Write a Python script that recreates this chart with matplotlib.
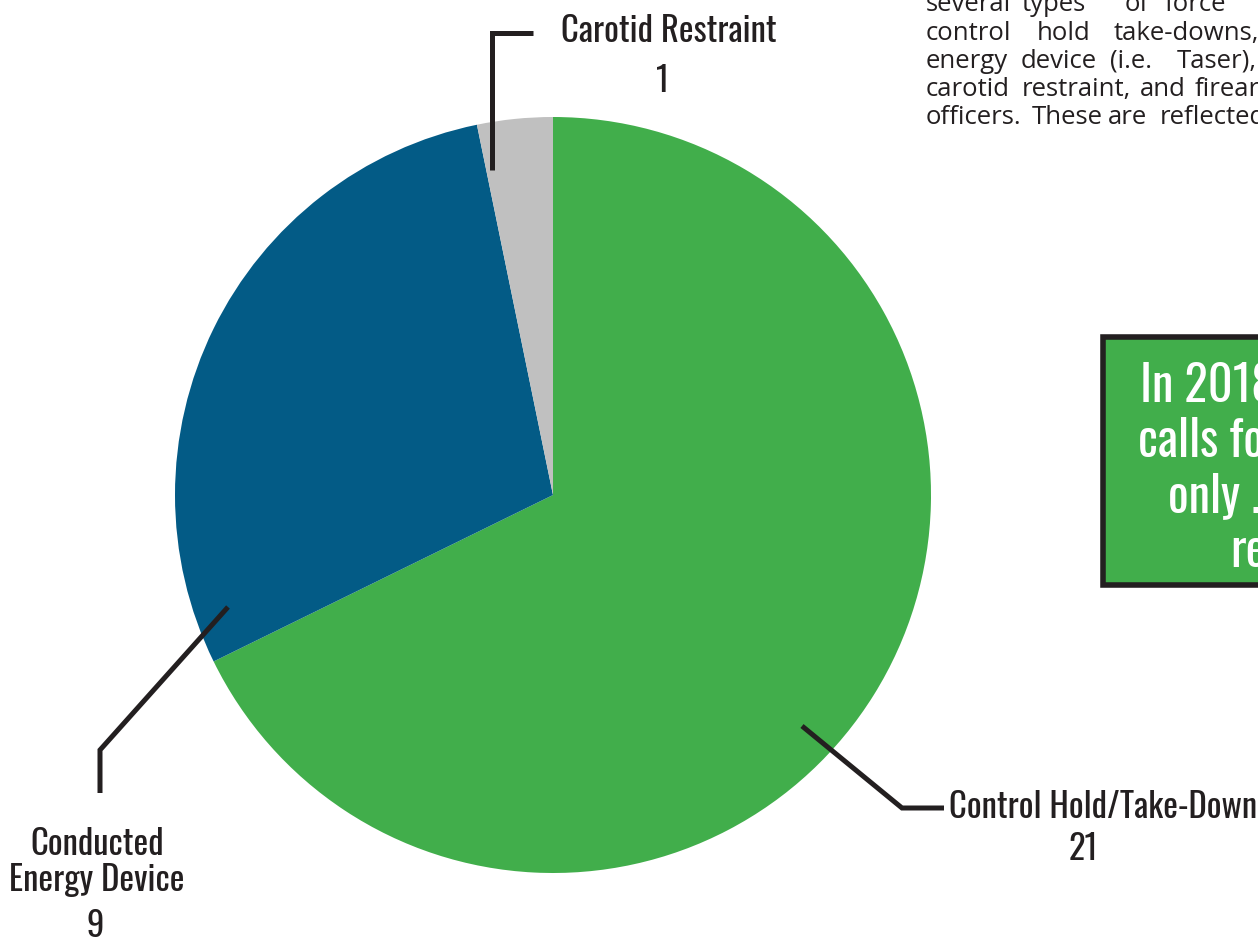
import matplotlib
matplotlib.use("Agg")
import matplotlib.pyplot as plt
from matplotlib import font_manager
from matplotlib.patches import Rectangle

# Use-of-force types and counts
categories = ["Control Hold/Take-Down", "Conducted\nEnergy Device", "Carotid Restraint"]
counts = [21, 9, 1]
colors = ["#41AE4B", "#035B86", "#C0C0C0"]

W, H = 1258, 942
INK = "#231F20"

installed = {f.name for f in font_manager.fontManager.ttflist}


def pick(*names):
    return next((n for n in names if n in installed), "DejaVu Sans")


narrow = pick("Oswald", "League Gothic", "Roboto Condensed", "Archivo Narrow", "Asap Condensed")
body_font = pick("Open Sans", "PT Sans", "Lato")

fig = plt.figure(figsize=(W / 100, H / 100), dpi=100)
ax = fig.add_axes([0, 0, 1, 1])


def Y(y):
    # convert a top-down pixel row into the axes' upward y
    return H - y


cx, cy, r = 553, Y(495), 378
ax.pie(counts, colors=colors, startangle=90, counterclock=False,
       center=(cx, cy), radius=r, wedgeprops=dict(linewidth=0))
ax.set_xlim(0, W)
ax.set_ylim(0, H)
ax.set_aspect("auto")
ax.axis("off")

# leader lines
lw = 3.6
for xs, ys in [([492, 492, 533], [170, 33, 33]),
               ([228, 100, 100], [607, 750, 793]),
               ([802, 902, 944], [726, 808, 808])]:
    ax.plot(xs, [Y(v) for v in ys], color=INK, lw=lw,
            solid_joinstyle="miter", solid_capstyle="butt")

lab = dict(family=narrow, color=INK, fontsize=25, ha="center", va="baseline",
           fontweight="medium")
ax.text(669, Y(42), categories[2], **lab)
ax.text(663, Y(92), str(counts[2]), **lab)
ax.text(1103, Y(818), categories[0], **lab)
ax.text(1083, Y(860), str(counts[0]), **lab)
ced = categories[1].split("\n")
ax.text(97, Y(855), ced[0], **lab)
ax.text(97, Y(891), ced[1], **lab)
ax.text(95, Y(937), str(counts[1]), **lab)

# body paragraph, justified word by word
body = dict(family=body_font, color=INK, fontsize=18.5, ha="left", va="baseline")
paragraph = [
    (11, [("several", 926), ("types", 1022), ("of", 1125), ("force", 1165)]),
    (40, [("control", 926), ("hold", 1037), ("take-downs,", 1114)]),
    (68, [("energy", 926), ("device", 1021), ("(i.e.", 1110), ("Taser),", 1177)]),
    (96, [("carotid", 926), ("restraint,", 1022), ("and", 1140), ("firearm", 1195)]),
    (124, [("officers.", 926), ("These", 1032), ("are", 1108), ("reflected", 1160)]),
]
for base, words in paragraph:
    for word, x in words:
        ax.text(x, Y(base), word, **body)

# highlighted call-out box
ax.add_patch(Rectangle((1103, Y(585)), 200, 248, facecolor="#41AE4B",
                       edgecolor=INK, linewidth=4, clip_on=False))
box = dict(family=narrow, color="white", fontsize=35, ha="left", va="baseline",
           fontweight="medium")
ax.text(1140, Y(402), "In 2018,", **box)
ax.text(1138, Y(457), "calls for", **box)
ax.text(1168, Y(512), "only .1%", **box)
ax.text(1230, Y(567), "res", **box)

fig.savefig("out.png", dpi=100)
